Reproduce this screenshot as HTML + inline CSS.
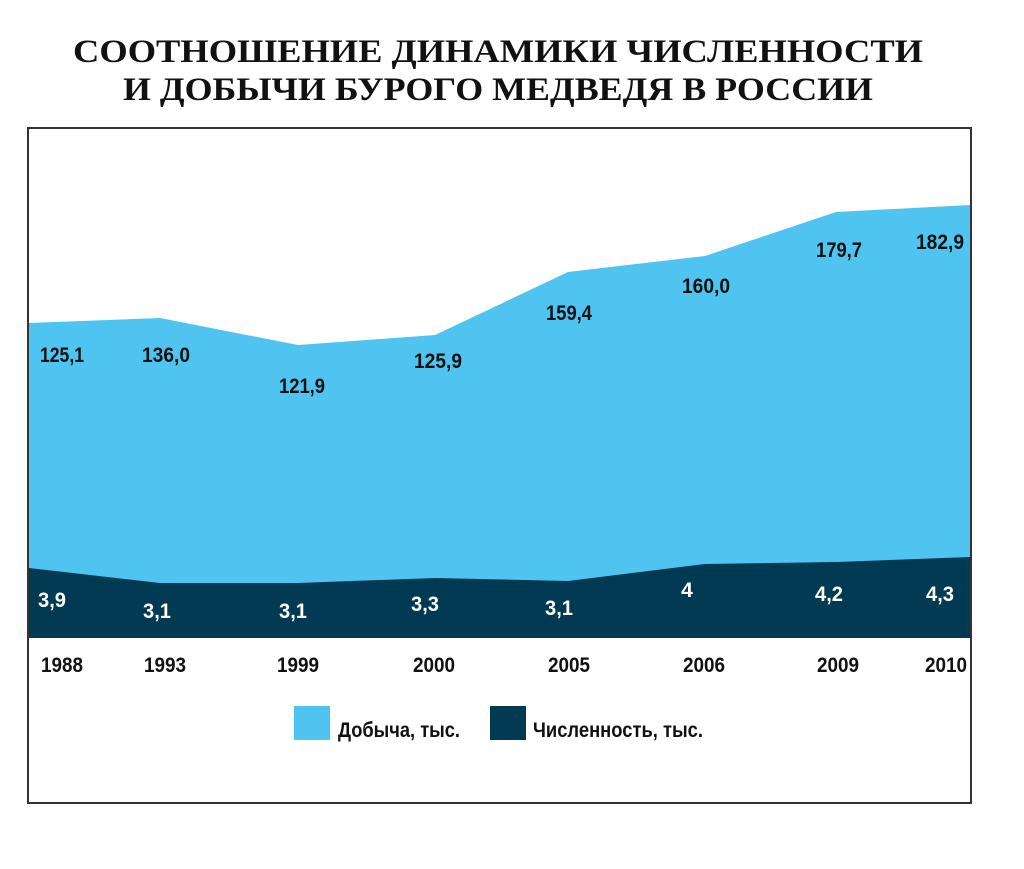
<!DOCTYPE html>
<html><head><meta charset="utf-8"><style>
body{margin:0;background:#fff;width:1024px;height:864px;overflow:hidden}
</style></head><body>
<svg width="1024" height="864" xmlns="http://www.w3.org/2000/svg">
<text x="498" y="62" font-family="Liberation Serif, serif" font-weight="bold" font-size="33" text-anchor="middle" fill="#111" textLength="850" lengthAdjust="spacingAndGlyphs">СООТНОШЕНИЕ ДИНАМИКИ ЧИСЛЕННОСТИ</text>
<text x="498" y="100" font-family="Liberation Serif, serif" font-weight="bold" font-size="33" text-anchor="middle" fill="#111" textLength="750" lengthAdjust="spacingAndGlyphs">И ДОБЫЧИ БУРОГО МЕДВЕДЯ В РОССИИ</text>
<rect x="28" y="128" width="943" height="675" fill="none" stroke="#333" stroke-width="2"/>
<polygon fill="#4fc4f0" points="29,323 160,318 298,345 435,335 568,272 705,256 836,212 970,205 970,638 29,638"/>
<polygon fill="#023a53" points="29,568 160,583 298,583 435,578 568,581 705,564 836,562 970,557 970,638 29,638"/>
<g font-family="Liberation Sans, sans-serif" font-weight="bold" font-size="21" fill="#111" text-anchor="middle">
<text x="62" y="362" textLength="44" lengthAdjust="spacingAndGlyphs">125,1</text>
<text x="166" y="362" textLength="48" lengthAdjust="spacingAndGlyphs">136,0</text>
<text x="302" y="393" textLength="46" lengthAdjust="spacingAndGlyphs">121,9</text>
<text x="438" y="368" textLength="48" lengthAdjust="spacingAndGlyphs">125,9</text>
<text x="569" y="320" textLength="46" lengthAdjust="spacingAndGlyphs">159,4</text>
<text x="706" y="293" textLength="48" lengthAdjust="spacingAndGlyphs">160,0</text>
<text x="839" y="257" textLength="46" lengthAdjust="spacingAndGlyphs">179,7</text>
<text x="940" y="249" textLength="48" lengthAdjust="spacingAndGlyphs">182,9</text>
</g>
<g font-family="Liberation Sans, sans-serif" font-weight="bold" font-size="21" fill="#fff" text-anchor="middle">
<text x="52" y="607" textLength="28" lengthAdjust="spacingAndGlyphs">3,9</text>
<text x="157" y="618" textLength="28" lengthAdjust="spacingAndGlyphs">3,1</text>
<text x="293" y="618" textLength="28" lengthAdjust="spacingAndGlyphs">3,1</text>
<text x="425" y="611" textLength="28" lengthAdjust="spacingAndGlyphs">3,3</text>
<text x="559" y="615" textLength="28" lengthAdjust="spacingAndGlyphs">3,1</text>
<text x="687" y="597">4</text>
<text x="829" y="601" textLength="28" lengthAdjust="spacingAndGlyphs">4,2</text>
<text x="940" y="601" textLength="28" lengthAdjust="spacingAndGlyphs">4,3</text>
</g>
<g font-family="Liberation Sans, sans-serif" font-weight="bold" font-size="21" fill="#111" text-anchor="middle">
<text x="62" y="672" textLength="42" lengthAdjust="spacingAndGlyphs">1988</text>
<text x="165" y="672" textLength="42" lengthAdjust="spacingAndGlyphs">1993</text>
<text x="298" y="672" textLength="42" lengthAdjust="spacingAndGlyphs">1999</text>
<text x="434" y="672" textLength="42" lengthAdjust="spacingAndGlyphs">2000</text>
<text x="569" y="672" textLength="42" lengthAdjust="spacingAndGlyphs">2005</text>
<text x="704" y="672" textLength="42" lengthAdjust="spacingAndGlyphs">2006</text>
<text x="838" y="672" textLength="42" lengthAdjust="spacingAndGlyphs">2009</text>
<text x="946" y="672" textLength="42" lengthAdjust="spacingAndGlyphs">2010</text>
</g>
<rect x="294" y="706" width="36" height="34" fill="#4fc4f0"/>
<text x="338" y="737" font-family="Liberation Sans, sans-serif" font-weight="bold" font-size="21" fill="#111" textLength="122" lengthAdjust="spacingAndGlyphs">Добыча, тыс.</text>
<rect x="490" y="706" width="36" height="34" fill="#023a53"/>
<text x="533" y="737" font-family="Liberation Sans, sans-serif" font-weight="bold" font-size="21" fill="#111" textLength="170" lengthAdjust="spacingAndGlyphs">Численность, тыс.</text>
</svg>
</body></html>
